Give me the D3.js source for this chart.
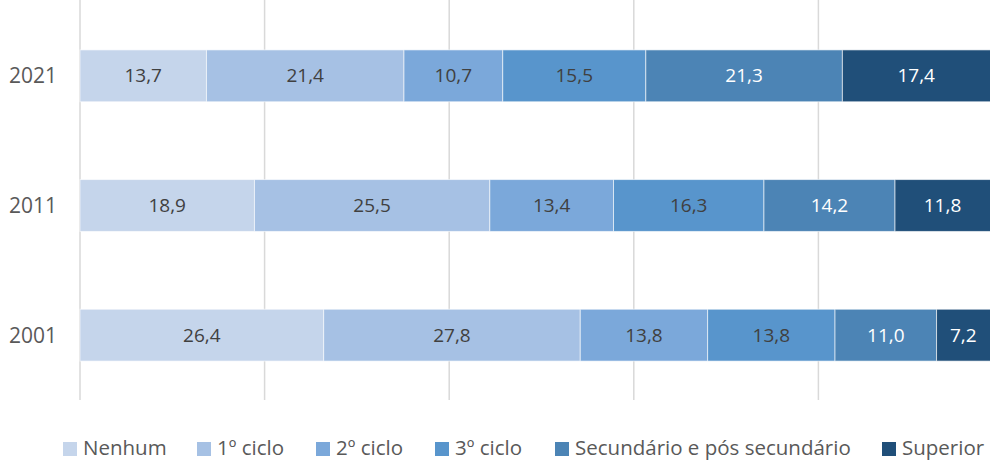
<!DOCTYPE html>
<meta charset="utf-8">

<script src="https://d3js.org/d3.v7.min.js"></script>

<style type="text/css">
body { margin: 0; background: #fff; }
svg text { font-family: "Open Sans", sans-serif; }
</style>

<body></body>

<script>

// data
var years = ["2021", "2011", "2001"];
var levels = ["Nenhum", "1º ciclo", "2º ciclo", "3º ciclo", "Secundário e pós secundário", "Superior"];
var v2021 = [13.7, 21.4, 10.7, 15.5, 21.3, 17.4];
var v2011 = [18.9, 25.5, 13.4, 16.3, 14.2, 11.8];
var v2001 = [26.4, 27.8, 13.8, 13.8, 11.0, 7.2];
var gridTicks = [0, 20, 40, 60, 80, 100];

var colors = ["#c5d5eb", "#a6c1e4", "#7ba8da", "#5895cc", "#4c84b5", "#204f79"];
var labelColors = ["#404040", "#404040", "#404040", "#404040", "#ffffff", "#ffffff"];

var rows = [v2021, v2011, v2001].map(function(vals, i) {
  var acc = 0;
  return {
    year: years[i],
    segs: vals.map(function(v, j) {
      var s = {level: j, value: v, x0: acc, x1: acc + v};
      acc += v;
      return s;
    })
  };
});

var width = 990, height = 461;

var svg = d3.select("body").append("svg")
    .attr("width", width)
    .attr("height", height);

var xScale = d3.scaleLinear()
  .domain([0, 100])
  .range([80, 1003]);

var yScale = d3.scaleBand()
  .domain(years)
  .range([11, 400])
  .paddingInner(0.6)
  .paddingOuter(0.3);

// gridlines
svg.append("g")
  .selectAll("line")
  .data(gridTicks)
  .enter().append("line")
  .attr("x1", d => xScale(d))
  .attr("x2", d => xScale(d))
  .attr("y1", 0)
  .attr("y2", 400)
  .attr("stroke", "#d9d9d9")
  .attr("stroke-width", 1.5);

// year labels
svg.append("g")
  .selectAll("text")
  .data(years)
  .enter().append("text")
  .attr("x", 57)
  .attr("y", d => yScale(d) + yScale.bandwidth() / 2)
  .attr("dy", "0.35em")
  .attr("text-anchor", "end")
  .attr("fill", "#595959")
  .style("font-size", "21px")
  .text(d => d);

// bars
var rowG = svg.selectAll(".row")
  .data(rows)
  .enter().append("g")
  .attr("class", "row")
  .attr("transform", d => `translate(0,${yScale(d.year)})`);

rowG.selectAll("rect")
  .data(d => d.segs)
  .enter().append("rect")
  .attr("x", d => xScale(d.x0))
  .attr("y", 0)
  .attr("width", d => xScale(d.x1) - xScale(d.x0))
  .attr("height", yScale.bandwidth())
  .attr("fill", d => colors[d.level])
  .attr("stroke", "rgba(255,255,255,0.6)")
  .attr("stroke-width", 1);

rowG.selectAll("text")
  .data(d => d.segs)
  .enter().append("text")
  .attr("x", d => (xScale(d.x0) + Math.min(xScale(d.x1), 990)) / 2)
  .attr("y", yScale.bandwidth() / 2)
  .attr("dy", "0.35em")
  .attr("text-anchor", "middle")
  .attr("fill", d => labelColors[d.level])
  .style("font-size", "19px")
  .text(d => d3.format(".1f")(d.value).replace(".", ","));

// legend
var legendX = [63, 197, 316, 435, 555, 882];
var legend = svg.append("g")
  .selectAll("g")
  .data(levels)
  .enter().append("g")
  .attr("transform", (d, i) => `translate(${legendX[i]},442)`);

legend.append("rect")
  .attr("width", 14)
  .attr("height", 14)
  .attr("fill", (d, i) => colors[i]);

legend.append("text")
  .attr("x", 20)
  .attr("y", 13)
  .attr("fill", "#595959")
  .style("font-size", "20.5px")
  .text(d => d);

</script>
